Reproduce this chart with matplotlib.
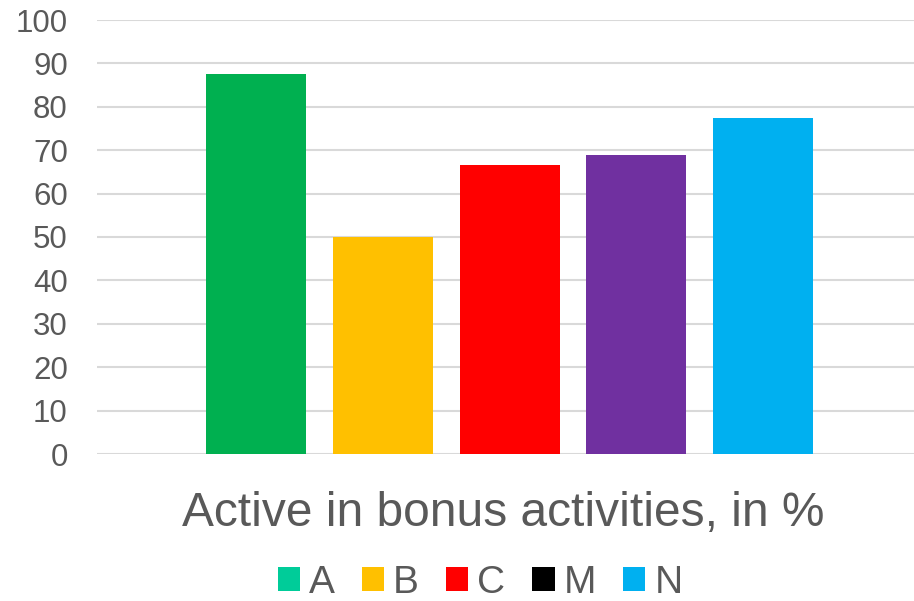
import matplotlib.pyplot as plt
from matplotlib.patches import Patch

plt.rcParams['font.family'] = ['Liberation Sans', 'DejaVu Sans']

labels = ['A', 'B', 'C', 'M', 'N']
values = [87.5, 50.0, 66.7, 69.0, 77.4]
bar_colors = ['#00B050', '#FFC000', '#FF0000', '#7030A0', '#00B0F0']
legend_colors = ['#00CC99', '#FFC000', '#FF0000', '#000000', '#00B0F0']
yticks = [0, 10, 20, 30, 40, 50, 60, 70, 80, 90, 100]
title = 'Active in bonus activities, in %'

grey = '#595959'

fig = plt.figure(figsize=(9.14, 6.01), dpi=100)
ax = fig.add_axes([97 / 914, 1 - 454 / 601, 1 - 97 / 914, 434 / 601])

xs = range(len(values))
ax.bar(xs, values, width=0.789, color=bar_colors, zorder=3)

ax.set_ylim(0, 100)
ax.set_xlim(-1.254, 5.19)
ax.set_yticks(yticks)
ax.set_xticks([])
ax.yaxis.grid(True, color='#D9D9D9', linewidth=1.5, zorder=0)
ax.tick_params(axis='y', length=0, pad=21, labelsize=22.5, labelcolor=grey)
for s in ax.spines.values():
    s.set_visible(False)

fig.text(503 / 914, 1 - 526 / 601, title, ha='center', va='baseline',
         fontsize=34.5, color=grey)

handles = [Patch(facecolor=c, edgecolor='none') for c in legend_colors]
leg = fig.legend(handles, labels, loc='center', bbox_to_anchor=(480 / 914, 1 - 583 / 601),
                 ncol=5, frameon=False, fontsize=28, handlelength=0.57, handleheight=0.57,
                 handletextpad=0.23, columnspacing=0.7, borderpad=0, borderaxespad=0)
for t in leg.get_texts():
    t.set_color(grey)

fig.savefig('out.png', dpi=100)
